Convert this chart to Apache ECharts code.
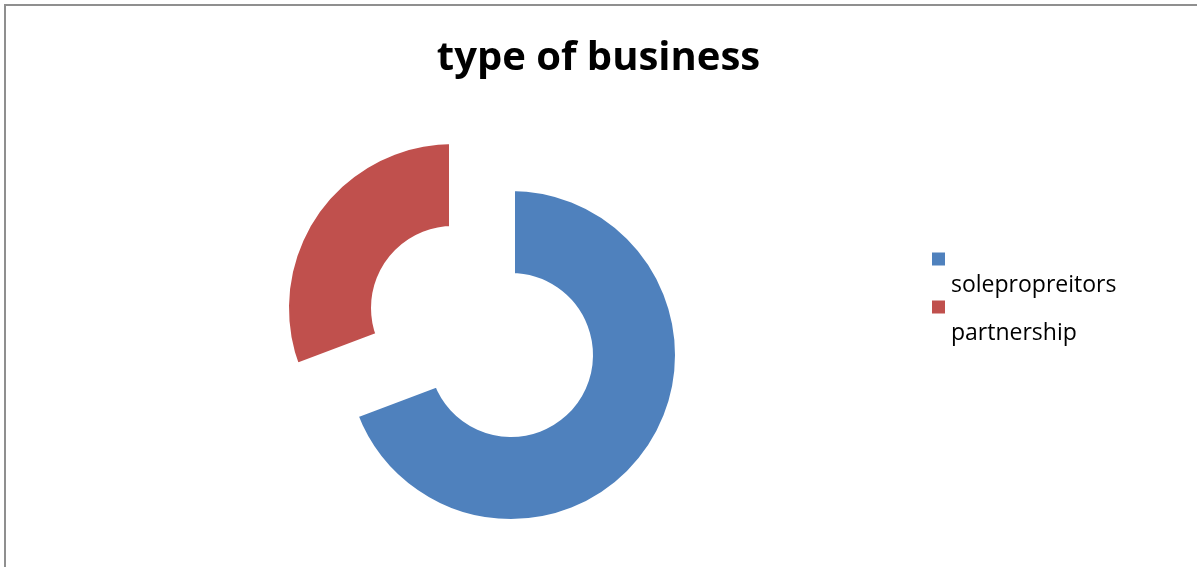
<!DOCTYPE html>
<html>
<head>
<meta charset="utf-8">
<script src="https://cdn.jsdelivr.net/npm/echarts@6/dist/echarts.min.js"></script>
<style>
  html, body { margin: 0; padding: 0; background: #fff; }
  #chart { width: 1197px; height: 567px; }
</style>
</head>
<body>
<div id="chart"></div>
<script>
// Business types and their counts
const categories = ['solepropreitors', 'partnership'];
const counts = [9, 4];
const sliceColors = ['#4F81BD', '#C0504D'];

// Each slice is pulled out of the ring, so each gets its own pie centre
const sliceCenters = [[511, 355], [453, 308]];

const chart = echarts.init(document.getElementById('chart'), null, { renderer: 'canvas' });

// One pie per slice: the slice itself plus an invisible remainder keeping the angles
const series = categories.map((name, i) => ({
  type: 'pie',
  name: name,
  center: sliceCenters[i],
  radius: [78, 168],
  startAngle: 90,
  clockwise: true,
  silent: true,
  avoidLabelOverlap: false,
  label: { show: false },
  labelLine: { show: false },
  emphasis: { disabled: true },
  itemStyle: { borderColor: '#fff', borderWidth: 8 },
  data: categories.map((n, j) => j === i
    ? { name: n, value: counts[j], itemStyle: { color: sliceColors[j] } }
    : { name: 'rest-' + n, value: counts[j], itemStyle: { color: 'rgba(0,0,0,0)', borderColor: 'rgba(0,0,0,0)' } })
}));

// One legend per entry so each icon sits above its wrapped label
const legendTops = [207, 255];
const legends = categories.map((name, i) => ({
  data: [{ name: name, itemStyle: { color: sliceColors[i] } }],
  orient: 'vertical',
  left: 930,
  top: legendTops[i],
  padding: 0,
  icon: 'rect',
  itemWidth: 15,
  itemHeight: 15,
  selectedMode: false,
  formatter: n => '\n' + n,
  textStyle: {
    fontFamily: 'Open Sans',
    fontSize: 23,
    color: '#000',
    lineHeight: 52
  }
}));

chart.setOption({
  animation: false,
  backgroundColor: '#fff',
  title: {
    text: 'type of business',
    left: 'center',
    top: 34,
    textStyle: {
      fontFamily: 'Open Sans',
      fontWeight: 'bold',
      fontSize: 40,
      color: '#000'
    }
  },
  legend: legends,
  graphic: [{
    type: 'rect',
    shape: { x: 5, y: 5, width: 1300, height: 700 },
    style: { fill: 'none', stroke: '#8f8f8f', lineWidth: 2 },
    silent: true
  }],
  series: series
});
</script>
</body>
</html>
